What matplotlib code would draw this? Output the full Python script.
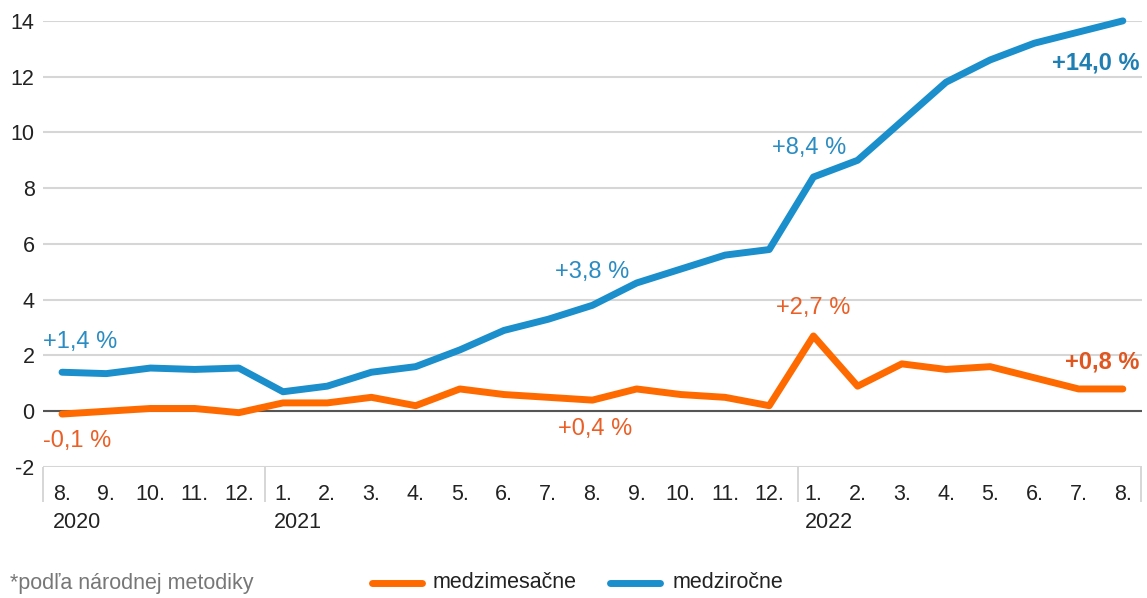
import matplotlib.pyplot as plt
import matplotlib.transforms as mtransforms

plt.rcParams['font.family'] = ['Liberation Sans', 'DejaVu Sans']
plt.rcParams['axes.unicode_minus'] = False

months = ['8.', '9.', '10.', '11.', '12.',
          '1.', '2.', '3.', '4.', '5.', '6.', '7.', '8.', '9.', '10.', '11.', '12.',
          '1.', '2.', '3.', '4.', '5.', '6.', '7.', '8.']
years = ['2020', '2021', '2022']
year_start = [0, 5, 17]

medzirocne = [1.4, 1.35, 1.55, 1.5, 1.55,
              0.7, 0.9, 1.4, 1.6, 2.2, 2.9, 3.3, 3.8, 4.6, 5.1, 5.6, 5.8,
              8.4, 9.0, 10.4, 11.8, 12.6, 13.2, 13.6, 14.0]
medzimesacne = [-0.1, 0.0, 0.1, 0.1, -0.05,
                0.3, 0.3, 0.5, 0.2, 0.8, 0.6, 0.5, 0.4, 0.8, 0.6, 0.5, 0.2,
                2.7, 0.9, 1.7, 1.5, 1.6, 1.2, 0.8, 0.8]

blue = '#1b8fcb'
orange = '#ff6a00'
blue_txt = '#2a8cc2'
orange_txt = '#ea5f26'

x = list(range(len(months)))

fig = plt.figure(figsize=(11.47, 5.98), dpi=100)
ax = fig.add_axes([0.0375, 0.219, 0.958, 0.7461])

ax.set_xlim(-0.43, 24.43)
ax.set_ylim(-2, 14)
ax.set_yticks(range(-2, 15, 2))
ax.grid(axis='y', color='#d6d6d6', lw=1.5)
ax.axhline(0, color='#555555', lw=1.5, zorder=2)
for s in ax.spines.values():
    s.set_visible(False)

ax.plot(x, medzimesacne, color=orange, lw=5, solid_capstyle='round', zorder=3, clip_on=False)
ax.plot(x, medzirocne, color=blue, lw=5, solid_capstyle='round', zorder=4, clip_on=False)

ax.tick_params(axis='y', length=0, pad=6, labelsize=15.5, labelcolor='#222222')
ax.set_xticks(x)
ax.set_xticklabels(months)
ax.tick_params(axis='x', which='major', length=0, pad=12, labelsize=15.5, labelcolor='#222222')
ax.set_xticks([-0.43, 4.59, 16.65, 24.4], minor=True)
ax.tick_params(axis='x', which='minor', length=25, width=1.2, color='#d0d0d0')

trans = mtransforms.blended_transform_factory(ax.transData, fig.transFigure)
for yr, i in zip(years, year_start):
    ax.text(i - 0.2, 1 - 523 / 598, yr, transform=trans, ha='left', va='center',
            fontsize=15.5, color='#222222')

# annotations
ax.text(-0.43, 2.5, '+1,4 %', color=blue_txt, fontsize=17, ha='left', va='center')
ax.text(-0.43, -1.05, '-0,1 %', color=orange_txt, fontsize=17, ha='left', va='center')
ax.text(12.0, 5.0, '+3,8 %', color=blue_txt, fontsize=17, ha='center', va='center')
ax.text(12.05, -0.65, '+0,4 %', color=orange_txt, fontsize=17, ha='center', va='center')
ax.text(16.9, 9.45, '+8,4 %', color=blue_txt, fontsize=17, ha='center', va='center')
ax.text(17.0, 3.7, '+2,7 %', color=orange_txt, fontsize=17, ha='center', va='center')
ax.text(24.37, 12.5, '+14,0 %', color='#1f7fb3', fontsize=17, fontweight='bold',
        ha='right', va='center')
ax.text(24.37, 1.77, '+0,8 %', color='#e0561f', fontsize=17, fontweight='bold',
        ha='right', va='center')

# footer
fig.text(10 / 1147, 1 - 583 / 598, '*podľa národnej metodiky', color='#777777',
         fontsize=15.5, ha='left', va='center')
fig.add_artist(plt.Line2D([372 / 1147, 422 / 1147], [1 - 583 / 598] * 2,
                          color=orange, lw=5, solid_capstyle='round'))
fig.text(433 / 1147, 1 - 583 / 598, 'medzimesačne', color='#222222',
         fontsize=15.5, ha='left', va='center')
fig.add_artist(plt.Line2D([610 / 1147, 660 / 1147], [1 - 583 / 598] * 2,
                          color=blue, lw=5, solid_capstyle='round'))
fig.text(673 / 1147, 1 - 583 / 598, 'medziročne', color='#222222',
         fontsize=15.5, ha='left', va='center')

fig.savefig('out.png', dpi=100)
